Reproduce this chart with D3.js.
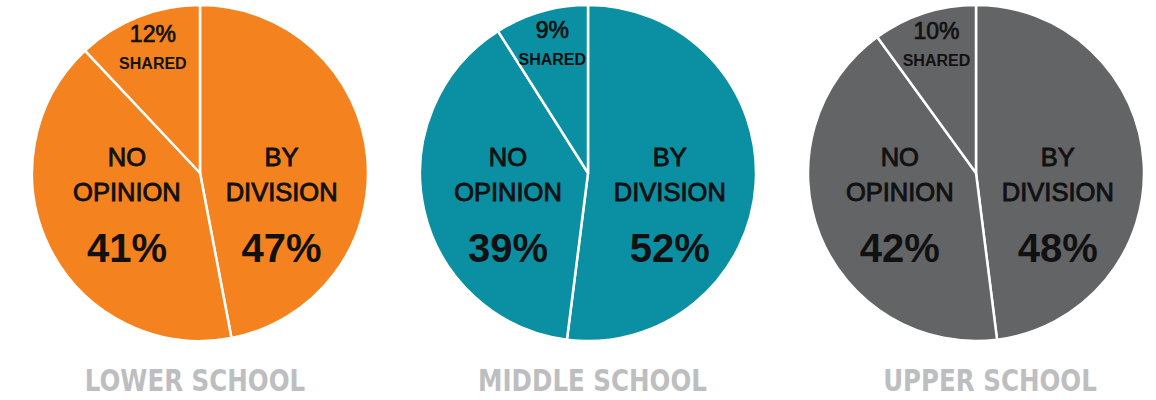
<!DOCTYPE html>
<html>
<head>
<meta charset="utf-8">
<script src="https://cdn.jsdelivr.net/npm/d3@7"></script>
<style>
  html, body { margin: 0; padding: 0; background: #fff; }
  svg { display: block; }
</style>
</head>
<body>
<script>
const schools = ["LOWER SCHOOL", "MIDDLE SCHOOL", "UPPER SCHOOL"];
const categories = ["BY DIVISION", "NO OPINION", "SHARED"];
const byDivision = [47, 52, 48];
const noOpinion = [41, 39, 42];
const shared = [12, 9, 10];
const pieColors = ["#F4831F", "#0B8FA3", "#636466"];

const W = 1156, H = 400;
const R = 168, CY = 173;

const svg = d3.select("body").append("svg").attr("width", W).attr("height", H);

const xScale = d3.scalePoint().domain(schools).range([200, 976]);
const titleScale = d3.scalePoint().domain(schools).range([195, 990]);

const pie = d3.pie().sort(null).value(d => d.value);
const arc = d3.arc().innerRadius(0).outerRadius(R);
const bigLabelArc = d3.arc().innerRadius(82).outerRadius(82);
const smallLabelArc = d3.arc().innerRadius(128).outerRadius(128);

const FONT = "Liberation Sans, Arial, sans-serif";

schools.forEach((school, i) => {
  const data = [
    { cat: categories[0], value: byDivision[i] },
    { cat: categories[1], value: noOpinion[i] },
    { cat: categories[2], value: shared[i] }
  ];
  const cx = xScale(school);
  const g = svg.append("g").attr("transform", `translate(${cx},${CY})`);
  const arcs = pie(data);

  g.selectAll("path").data(arcs).join("path")
    .attr("d", arc)
    .attr("fill", pieColors[i])
    .attr("stroke", "#fff")
    .attr("stroke-width", 2.5)
    .attr("stroke-linejoin", "round");

  arcs.forEach(a => {
    if (a.data.cat === "SHARED") {
      const [lx, ly] = smallLabelArc.centroid(a);
      g.append("text")
        .attr("x", lx).attr("y", ly - 12)
        .attr("text-anchor", "middle")
        .attr("font-family", FONT)
        .attr("font-size", 23)
        .attr("fill", "#111")
        .attr("stroke", "#111").attr("stroke-width", 0.7)
        .text(a.data.value + "%");
      g.append("text")
        .attr("x", lx).attr("y", ly + 15)
        .attr("text-anchor", "middle")
        .attr("font-family", FONT)
        .attr("font-size", 16)
        .attr("font-weight", "bold")
        .attr("fill", "#111")
        .text(a.data.cat);
    } else {
      const [lx] = bigLabelArc.centroid(a);
      const words = a.data.cat.split(" ");
      words.forEach((w, k) => {
        g.append("text")
          .attr("x", lx).attr("y", -7 + k * 35)
          .attr("text-anchor", "middle")
          .attr("font-family", FONT)
          .attr("font-size", 25.5)
          .attr("fill", "#111")
          .attr("stroke", "#111").attr("stroke-width", 0.9)
          .text(w);
      });
      g.append("text")
        .attr("x", lx).attr("y", 89)
        .attr("text-anchor", "middle")
        .attr("font-family", FONT)
        .attr("font-size", 40)
        .attr("font-weight", "bold")
        .attr("fill", "#111")
        .text(a.data.value + "%");
    }
  });

  const t = svg.append("text")
    .attr("x", titleScale(school)).attr("y", 391)
    .attr("text-anchor", "middle")
    .attr("font-family", "DejaVu Sans Condensed, Liberation Sans, sans-serif")
    .attr("font-size", 31)
    .attr("font-weight", "bold")
    .attr("fill", "#BDBEC0")
    .text(school);
  const len = t.node().getComputedTextLength();
  t.attr("textLength", len * 0.88).attr("lengthAdjust", "spacingAndGlyphs");
});
</script>
</body>
</html>
